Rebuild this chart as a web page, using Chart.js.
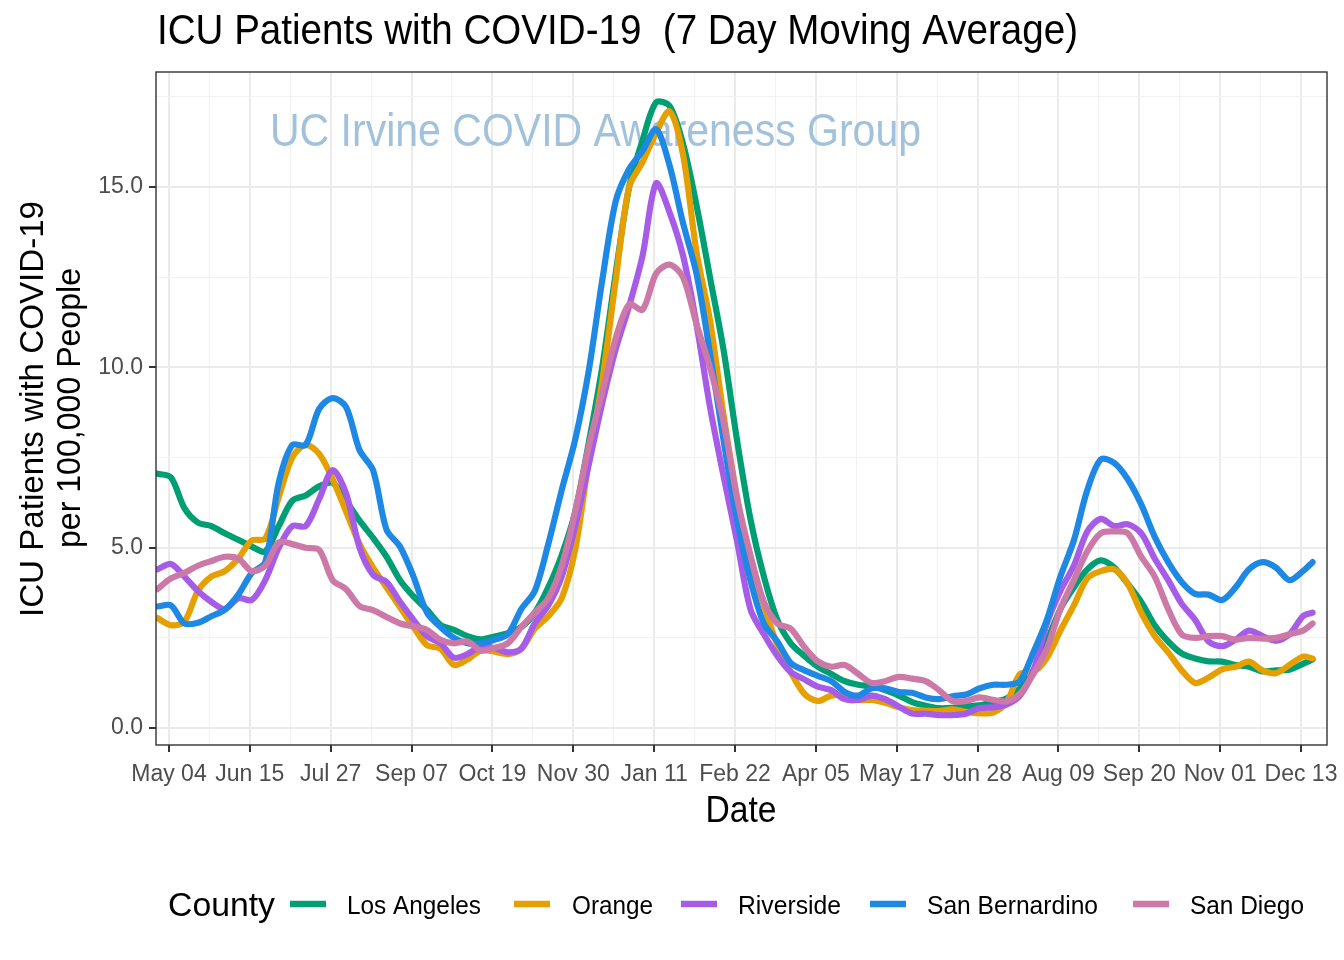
<!DOCTYPE html>
<html>
<head>
<meta charset="utf-8">
<script src="https://cdn.jsdelivr.net/npm/chart.js@4.4.0/dist/chart.umd.min.js"></script>
<style>
html,body{margin:0;padding:0;background:#ffffff;}
#wrap{width:1344px;height:960px;position:relative;}
canvas{display:block;}
</style>
</head>
<body>
<div id="wrap"><canvas id="c" width="1344" height="960"></canvas></div>
<script>
// Days since May 04 2020 (weekly samples)
const days = [-6,1,8,15,22,29,36,43,50,57,64,71,78,85,92,99,106,113,120,127,134,141,148,155,162,169,176,183,190,197,204,211,218,225,232,239,246,253,260,267,274,281,288,295,302,309,316,323,330,337,344,351,358,365,372,379,386,393,400,407,414,421,428,435,442,449,456,463,470,477,484,491,498,505,512,519,526,533,540,547,554,561,568,575,582,589,594];

const tickLabels = ['May 04','Jun 15','Jul 27','Sep 07','Oct 19','Nov 30','Jan 11','Feb 22','Apr 05','May 17','Jun 28','Aug 09','Sep 20','Nov 01','Dec 13'];

const counties = ['Los Angeles','Orange','Riverside','San Bernardino','San Diego'];

const losAngeles = [7.05,6.95,6.1,5.7,5.6,5.4,5.22,5.03,4.9,5.6,6.3,6.45,6.7,6.8,6.3,5.75,5.27,4.75,4.1,3.65,3.28,2.86,2.72,2.55,2.46,2.54,2.63,2.8,3.2,3.9,4.8,6.0,7.9,10.0,12.6,15.0,16.3,17.35,17.25,16.2,14.5,12.5,10.5,8.0,5.8,4.2,3.0,2.35,2.0,1.7,1.5,1.3,1.2,1.15,1.05,0.9,0.72,0.62,0.55,0.56,0.6,0.63,0.72,0.82,1.1,1.6,2.4,3.3,3.9,4.4,4.65,4.45,4.0,3.5,2.85,2.4,2.07,1.93,1.85,1.84,1.75,1.7,1.57,1.6,1.62,1.78,1.9];

const orange = [3.05,2.85,2.95,3.8,4.2,4.35,4.7,5.2,5.25,6.4,7.5,7.85,7.6,6.9,6.0,5.1,4.45,3.9,3.35,2.8,2.3,2.2,1.75,1.9,2.15,2.12,2.05,2.2,2.75,3.1,3.6,4.95,7.4,9.6,12.4,15.0,15.7,16.5,17.1,15.9,13.2,11.3,8.7,6.4,4.6,3.4,2.3,1.55,0.95,0.75,0.9,0.9,0.78,0.78,0.7,0.58,0.5,0.48,0.47,0.52,0.45,0.41,0.43,0.7,1.5,1.55,1.95,2.7,3.4,4.15,4.35,4.4,4.0,3.2,2.55,2.1,1.6,1.25,1.4,1.63,1.7,1.84,1.6,1.52,1.75,1.98,1.93];

const riverside = [4.4,4.55,4.2,3.8,3.5,3.3,3.6,3.55,4.1,5.0,5.6,5.6,6.35,7.15,6.5,5.0,4.25,4.05,3.5,3.0,2.55,2.35,1.95,2.05,2.26,2.22,2.1,2.2,2.9,3.4,4.2,5.6,7.3,9.0,10.5,11.7,13.1,15.1,14.3,13.1,11.2,8.9,7.0,5.2,3.3,2.6,2.0,1.55,1.35,1.15,1.05,0.8,0.78,0.9,0.8,0.6,0.4,0.4,0.36,0.36,0.4,0.55,0.57,0.65,0.9,1.6,2.9,3.8,4.5,5.45,5.8,5.6,5.65,5.4,4.7,4.1,3.45,3.0,2.4,2.27,2.45,2.7,2.55,2.42,2.6,3.1,3.2];

const sanBernardino = [3.37,3.4,2.9,2.92,3.1,3.28,3.7,4.3,4.6,6.8,7.85,7.85,8.85,9.15,8.9,7.7,7.15,5.5,5.03,4.2,3.2,2.8,2.5,2.35,2.35,2.45,2.6,3.3,3.8,5.1,6.6,8.0,9.9,12.4,14.6,15.5,16.0,16.6,15.6,14.0,12.6,10.4,8.0,5.8,4.1,2.9,2.4,1.8,1.6,1.45,1.3,1.0,0.9,1.1,1.1,1.0,0.98,0.85,0.8,0.88,0.93,1.1,1.2,1.2,1.3,2.1,3.0,4.2,5.2,6.6,7.45,7.35,6.9,6.2,5.3,4.6,4.05,3.72,3.7,3.55,3.9,4.4,4.6,4.45,4.1,4.35,4.6];

const sanDiego = [3.85,4.15,4.3,4.5,4.63,4.75,4.7,4.35,4.5,5.15,5.1,5.0,4.94,4.1,3.85,3.38,3.27,3.08,2.9,2.82,2.72,2.45,2.35,2.4,2.15,2.22,2.35,2.8,3.2,3.6,4.5,6.0,7.8,9.3,10.8,11.75,11.6,12.6,12.85,12.5,11.2,10.0,8.5,6.4,4.8,3.5,2.9,2.75,2.25,1.85,1.7,1.75,1.5,1.25,1.3,1.42,1.37,1.3,1.05,0.75,0.75,0.85,0.78,0.74,0.95,1.5,2.2,3.3,4.1,4.9,5.4,5.45,5.4,4.75,4.2,3.3,2.6,2.5,2.55,2.55,2.45,2.5,2.48,2.5,2.6,2.7,2.9];

const colors = ['#009E73','#E69F00','#A75CE8','#1E88E5','#CC79A7'];
const seriesValues = [losAngeles, orange, riverside, sanBernardino, sanDiego];

const FONT = '"Liberation Sans", Arial, Helvetica, sans-serif';

function drawFit(ctx, text, x, y, size, targetW, align, color, angle) {
  ctx.save();
  ctx.font = size + 'px ' + FONT;
  ctx.fillStyle = color;
  ctx.textBaseline = 'alphabetic';
  ctx.textAlign = align;
  const w = ctx.measureText(text).width;
  const sx = targetW ? targetW / w : 1;
  ctx.translate(x, y);
  if (angle) ctx.rotate(angle);
  ctx.scale(sx, 1);
  ctx.fillText(text, 0, 0);
  ctx.restore();
}

const decor = {
  id: 'decor',
  beforeDatasetsDraw(chart) {
    const ctx = chart.ctx;
    drawFit(ctx, 'UC Irvine COVID Awareness Group', 270, 146, 46, 651, 'left', '#A2C2DB');
  },
  afterDatasetsDraw(chart) {
    const ctx = chart.ctx;
    const a = chart.chartArea;
    ctx.save();
    ctx.strokeStyle = '#333333';
    ctx.lineWidth = 1.4;
    ctx.strokeRect(a.left, a.top, a.right - a.left, a.bottom - a.top);
    ctx.restore();
  },
  afterDraw(chart) {
    const ctx = chart.ctx;
    drawFit(ctx, 'ICU Patients with COVID-19  (7 Day Moving Average)', 157, 44, 42, 921, 'left', '#000000');
    drawFit(ctx, 'Date', 741, 822, 36, 71, 'center', '#000000');
    drawFit(ctx, 'ICU Patients with COVID-19', 43, 409, 34, 416, 'center', '#000000', -Math.PI / 2);
    drawFit(ctx, 'per 100,000 People', 80, 408, 34, 280, 'center', '#000000', -Math.PI / 2);
    drawFit(ctx, 'County', 168, 916, 34, 107, 'left', '#000000');
    const swX = [290, 514, 681, 870, 1133];
    const lbX = [347, 572, 738, 927, 1190];
    const lbW = [134, 81, 103, 171, 114];
    counties.forEach((name, k) => {
      ctx.save();
      ctx.strokeStyle = colors[k];
      ctx.lineWidth = 6.5;
      ctx.beginPath();
      ctx.moveTo(swX[k], 904);
      ctx.lineTo(swX[k] + 36, 904);
      ctx.stroke();
      ctx.restore();
      drawFit(ctx, name, lbX[k], 914, 25, lbW[k], 'left', '#000000');
    });
  }
};

const datasets = counties.map((name, k) => ({
  label: name,
  data: days.map((d, i) => ({ x: d, y: seriesValues[k][i] })),
  borderColor: colors[k],
  backgroundColor: colors[k],
  borderWidth: 6.2,
  pointRadius: 0,
  tension: 0.3,
  fill: false,
  clip: 0,
  order: 5 - k,
  borderCapStyle: 'round',
  borderJoinStyle: 'round'
}));

const isMajorX = v => v % 42 === 0;
const isMajorY = v => Math.abs(v % 5) < 1e-9;

new Chart(document.getElementById('c'), {
  type: 'line',
  data: { datasets },
  options: {
    responsive: false,
    animation: false,
    devicePixelRatio: 1,
    layout: { padding: { top: 72, right: 17, bottom: 0, left: 0 } },
    plugins: { legend: { display: false }, tooltip: { enabled: false }, title: { display: false } },
    scales: {
      x: {
        type: 'linear',
        min: -6.75,
        max: 601.5,
        afterFit(s) { s.height = 215; s.paddingLeft = 0; s.paddingRight = 0; },
        afterBuildTicks(s) {
          const t = [];
          for (let v = 0; v <= 588; v += 21) t.push({ value: v });
          s.ticks = t;
        },
        ticks: {
          autoSkip: false, maxRotation: 0, minRotation: 0, padding: 9,
          color: '#4D4D4D', font: { family: FONT, size: 23 },
          callback: v => isMajorX(v) ? tickLabels[v / 42] : ''
        },
        grid: {
          color: c => isMajorX(c.tick.value) ? '#EBEBEB' : '#F2F2F2',
          lineWidth: c => isMajorX(c.tick.value) ? 2 : 1,
          tickLength: 7,
          tickWidth: 2,
          tickColor: c => isMajorX(c.tick.value) ? '#333333' : 'rgba(0,0,0,0)'
        },
        border: { display: false }
      },
      y: {
        type: 'linear',
        min: -0.47,
        max: 18.19,
        afterFit(s) { s.width = 156; s.paddingTop = 0; s.paddingBottom = 0; },
        afterBuildTicks(s) {
          const t = [];
          for (let v = 0; v <= 17.5; v += 2.5) t.push({ value: v });
          s.ticks = t;
        },
        ticks: {
          autoSkip: false, padding: 6,
          color: '#4D4D4D', font: { family: FONT, size: 23 },
          callback: v => isMajorY(v) ? v.toFixed(1) : ''
        },
        grid: {
          color: c => isMajorY(c.tick.value) ? '#EBEBEB' : '#F2F2F2',
          lineWidth: c => isMajorY(c.tick.value) ? 2 : 1,
          tickLength: 7,
          tickWidth: 2,
          tickColor: c => isMajorY(c.tick.value) ? '#333333' : 'rgba(0,0,0,0)'
        },
        border: { display: false }
      }
    }
  },
  plugins: [decor]
});
</script>
</body>
</html>
